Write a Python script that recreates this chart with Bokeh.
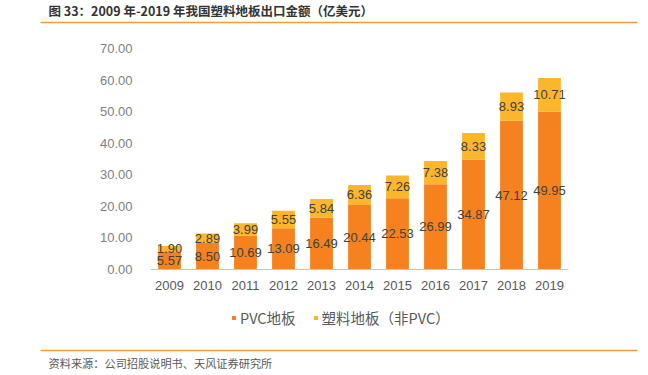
from bokeh.plotting import figure
from bokeh.layouts import column
from bokeh.models import (ColumnDataSource, LabelSet, Legend, LegendItem,
                          NumeralTickFormatter, FixedTicker, Range1d)
from bokeh.core.properties import value
from bokeh.embed import file_html
from bokeh.resources import INLINE

years = ["2009", "2010", "2011", "2012", "2013", "2014", "2015", "2016", "2017", "2018", "2019"]
pvc = [5.57, 8.50, 10.69, 13.09, 16.49, 20.44, 22.53, 26.99, 34.87, 47.12, 49.95]
non_pvc = [1.90, 2.89, 3.99, 5.55, 5.84, 6.36, 7.26, 7.38, 8.33, 8.93, 10.71]
series_names = ["PVC地板", "塑料地板（非PVC）"]
y_ticks = [0, 10, 20, 30, 40, 50, 60, 70]
title_text = "图 33：2009 年-2019 年我国塑料地板出口金额（亿美元）"
source_text = "资料来源：公司招股说明书、天风证券研究所"

ORANGE = "#F5821F"
YELLOW = "#FBB62B"
LINE = "#F39A3A"
FONT = "Liberation Sans"
CJK = "Noto Sans CJK SC"
W = 648


def blank(h):
    f = figure(width=W, height=h, x_range=Range1d(0, W), y_range=Range1d(h, 0),
               output_backend="svg", toolbar_location=None,
               min_border=0, min_border_left=0, min_border_right=0,
               min_border_top=0, min_border_bottom=0)
    f.axis.visible = False
    f.grid.visible = False
    f.outline_line_color = None
    f.border_fill_color = "white"
    f.background_fill_color = "white"
    f.frame_align = False
    return f


# ---- top: title + rule
top = blank(30)
top.text(x=[48], y=[9.5], text=[title_text], text_font=value(CJK),
         text_font_size="12.5px", text_font_style="bold", text_color="#333333",
         text_baseline="middle")
top.segment(x0=[40], x1=[637], y0=[22], y1=[22], line_color=LINE, line_width=1.5)

# ---- main chart
src = ColumnDataSource(dict(
    year=years, pvc=pvc, non=non_pvc,
    pvc_mid=[v / 2 for v in pvc],
    non_mid=[a + b / 2 for a, b in zip(pvc, non_pvc)],
    pvc_txt=["%.2f" % v for v in pvc],
    non_txt=["%.2f" % v for v in non_pvc],
))

p = figure(x_range=years, y_range=(0, 70), width=W, height=270,
           output_backend="svg", toolbar_location=None,
           min_border_left=150, min_border_right=80,
           min_border_top=18, min_border_bottom=31)
p.frame_align = False
p.outline_line_color = None
p.background_fill_color = "white"
p.border_fill_color = "white"
p.xgrid.grid_line_color = None
p.ygrid.grid_line_color = None
p.x_range.range_padding = 0

r = p.vbar_stack(["pvc", "non"], x="year", width=0.6, source=src,
                 color=[ORANGE, YELLOW], line_color=None)

for col, txt in (("pvc_mid", "pvc_txt"), ("non_mid", "non_txt")):
    p.add_layout(LabelSet(x="year", y=col, text=txt, source=src,
                          text_align="center", text_baseline="middle",
                          text_font=value(FONT), text_font_size="13px",
                          text_color="#404040"))

p.yaxis.ticker = FixedTicker(ticks=y_ticks)
p.yaxis.formatter = NumeralTickFormatter(format="0.00")
p.yaxis.axis_line_color = None
p.yaxis.major_tick_line_color = None
p.yaxis.minor_tick_line_color = None
p.yaxis.major_label_standoff = 12
p.yaxis.major_label_text_font = FONT
p.yaxis.major_label_text_font_size = "13px"
p.yaxis.major_label_text_color = "#7F7F7F"

p.xaxis.axis_line_color = "#BFC8D6"
p.xaxis.axis_line_width = 1
p.xaxis.major_tick_line_color = None
p.xaxis.minor_tick_line_color = None
p.xaxis.major_label_standoff = 5
p.xaxis.major_label_text_font = FONT
p.xaxis.major_label_text_font_size = "13px"
p.xaxis.major_label_text_color = "#595959"

# ---- bottom: legend, rule, source
bot = blank(75)
k0 = bot.vbar(x=[600], top=[10], bottom=[10], width=0, color=ORANGE, line_color=None)
k1 = bot.vbar(x=[600], top=[10], bottom=[10], width=0, color=YELLOW, line_color=None)
legend = Legend(items=[LegendItem(label=series_names[0], renderers=[k0]),
                       LegendItem(label=series_names[1], renderers=[k1])],
                orientation="horizontal", location=(231, 47),
                padding=0, margin=0, spacing=17, label_standoff=4,
                glyph_width=5, glyph_height=5, label_height=15,
                label_text_font=CJK, label_text_font_size="14.5px",
                label_text_color="#595959", border_line_color=None,
                background_fill_alpha=0)
bot.add_layout(legend, "center")
bot.segment(x0=[40], x1=[637], y0=[50], y1=[50], line_color=LINE, line_width=1.5)
bot.text(x=[48], y=[62], text=[source_text], text_font=value(CJK),
         text_font_size="11.2px", text_color="#595959", text_baseline="middle")

layout = column(top, p, bot, spacing=0)
open("out.html", "w").write(file_html(layout, INLINE))
